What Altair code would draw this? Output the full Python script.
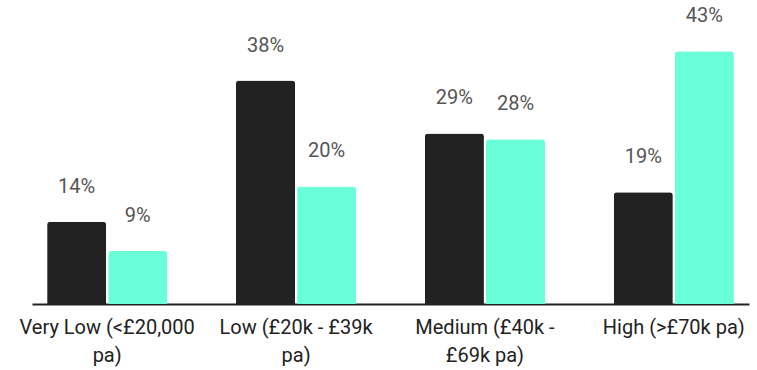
import altair as alt
import pandas as pd

categories = ["Very Low (<£20,000 pa)", "Low (£20k - £39k pa)", "Medium (£40k - £69k pa)", "High (>£70k pa)"]
label_lines = [["Very Low (<£20,000", "pa)"], ["Low (£20k - £39k", "pa)"], ["Medium (£40k -", "£69k pa)"], ["High (>£70k pa)"]]
series = ["Series A", "Series B"]
values_a = [14, 38, 29, 19]
values_b = [9, 20, 28, 43]
colors = ["#222222", "#6bffd9"]

rows = []
for c, a, b in zip(categories, values_a, values_b):
    rows.append({"category": c, "series": series[0], "value": a})
    rows.append({"category": c, "series": series[1], "value": b})
df = pd.DataFrame(rows)
df["label"] = df["value"].astype(str) + "%"

expr_parts = []
for c, lines in zip(categories, label_lines):
    arr = "[" + ", ".join("'" + l + "'" for l in lines) + "]"
    expr_parts.append(f"datum.label == '{c}' ? {arr}")
label_expr = " : ".join(expr_parts) + " : datum.label"

x = alt.X("category:N", sort=categories, title=None,
          scale=alt.Scale(paddingInner=0.364, paddingOuter=0.08),
          axis=alt.Axis(labelExpr=label_expr, labelAngle=0, labelFont="Roboto",
                        labelFontSize=20, labelColor="#222222", labelLineHeight=28,
                        labelPadding=13, ticks=False, domain=True, domainColor="#222222",
                        domainWidth=2, labelBaseline="top"))
xo = alt.XOffset("series:N", sort=series, scale=alt.Scale(paddingInner=0.033))
y = alt.Y("value:Q", scale=alt.Scale(domain=[0, 50], nice=False), axis=None)

bars = alt.Chart(df).mark_bar(cornerRadiusTopLeft=3, cornerRadiusTopRight=3).encode(
    x=x, xOffset=xo, y=y,
    color=alt.Color("series:N", sort=series, scale=alt.Scale(domain=series, range=colors), legend=None),
)
text = alt.Chart(df).mark_text(font="Roboto", fontSize=20, color="#555555", dy=-29,
                               baseline="alphabetic").encode(
    x=x, xOffset=xo, y=y, text="label:N")

chart = alt.layer(bars, text).properties(
    width=717, height=294,
    background="white",
    autosize=alt.AutoSizeParams(type="none"),
    padding={"left": 32, "top": 10, "right": 8, "bottom": 66},
).configure_view(strokeWidth=0, stroke=None)

chart.save("out.html", embed_options={"renderer": "svg", "actions": False})
